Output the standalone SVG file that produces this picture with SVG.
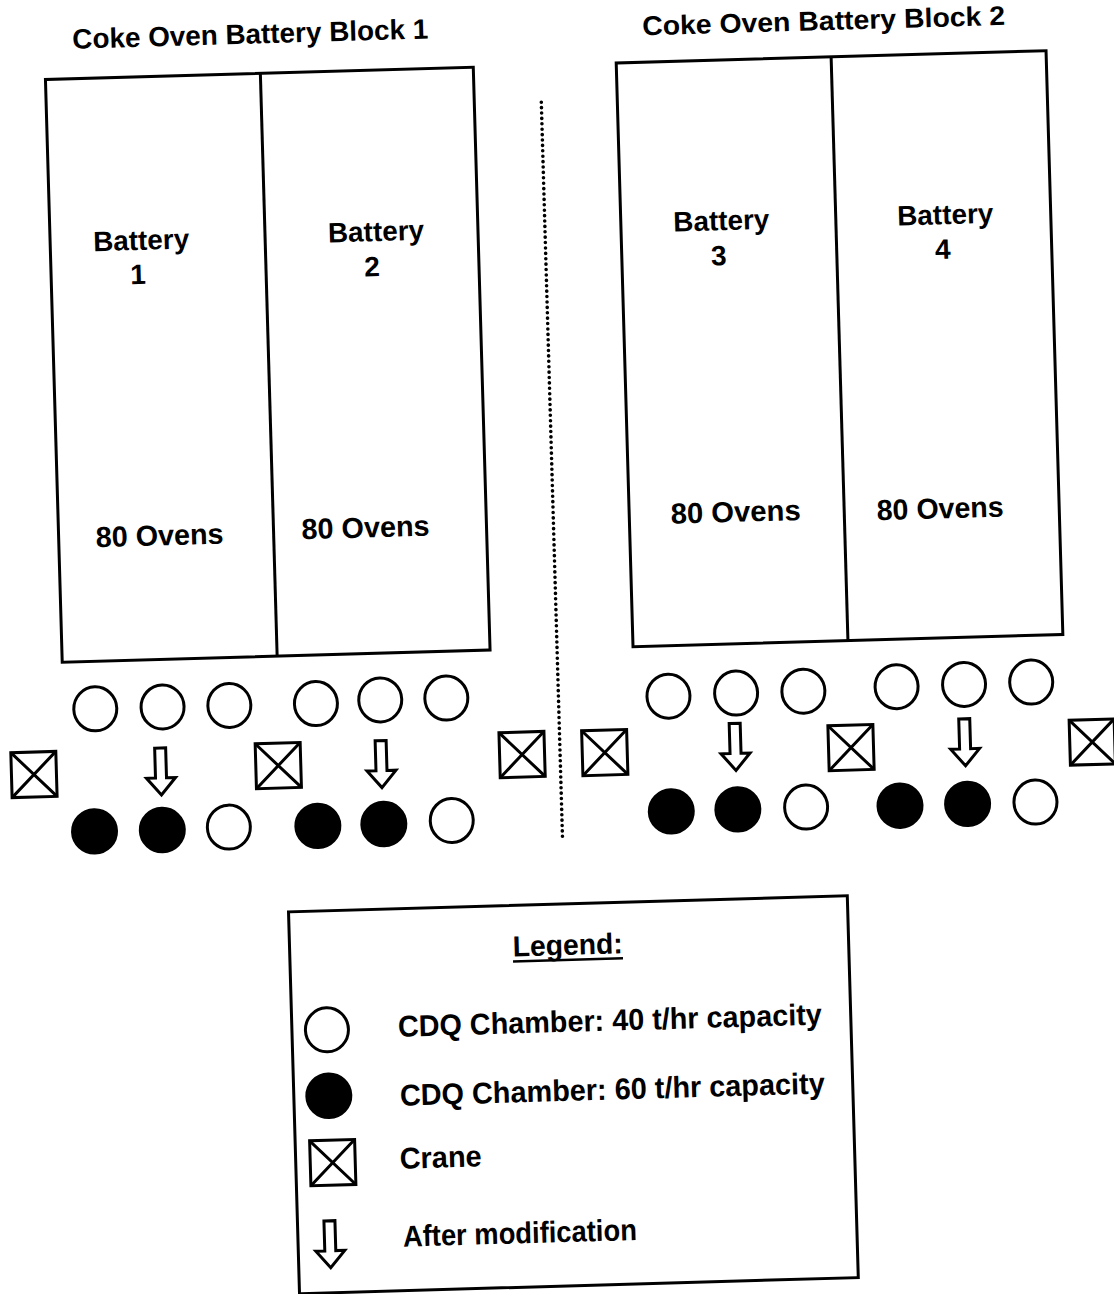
<svg xmlns="http://www.w3.org/2000/svg" xmlns:xlink="http://www.w3.org/1999/xlink" width="1114" height="1294" viewBox="0 0 1114 1294">
<style>
.t{font-family:"Liberation Sans",Arial,sans-serif;font-weight:bold;fill:#000}
.ln{fill:none;stroke:#000;stroke-width:3}
.open{fill:#fff;stroke:#000;stroke-width:3}
.full{fill:#000;stroke:#000;stroke-width:2}
</style>
<defs>
<g id="oc"><ellipse cx="0" cy="0" rx="21.5" ry="22" class="open"/></g>
<g id="fc"><ellipse cx="0" cy="0" rx="22.5" ry="22.2" class="full"/></g>
<g id="cr"><rect x="-22.5" y="-22.5" width="45" height="45" class="open" stroke-width="3.5"/><path d="M-22.5,-22.5 L22.5,22.5 M22.5,-22.5 L-22.5,22.5" class="ln"/></g>
<g id="ar"><path d="M-5.5,-47 H5.5 V-17 H14.5 L0,0 L-14.5,-17 H-5.5 Z" class="open" stroke-linejoin="miter"/></g>
</defs>
<rect width="1114" height="1294" fill="#fff"/>
<g transform="rotate(-1.65 557 647)">
<g id="block1">
<text class="t" x="90" y="35" font-size="28" textLength="356" lengthAdjust="spacingAndGlyphs">Coke Oven Battery Block 1</text>
<rect x="62" y="65" width="428" height="583" class="ln"/>
<line x1="277" y1="65" x2="277" y2="648" class="ln"/>
</g>
<g id="battery1">
<text class="t" x="153" y="238" font-size="28" text-anchor="middle" textLength="96" lengthAdjust="spacingAndGlyphs">Battery</text>
<text class="t" x="149" y="272" font-size="28" text-anchor="middle">1</text>
<text class="t" x="163" y="534" font-size="29" text-anchor="middle" textLength="128" lengthAdjust="spacingAndGlyphs">80 Ovens</text>
</g>
<g id="battery2">
<text class="t" x="388" y="236" font-size="28" text-anchor="middle" textLength="96" lengthAdjust="spacingAndGlyphs">Battery</text>
<text class="t" x="383" y="271" font-size="28" text-anchor="middle">2</text>
<text class="t" x="369" y="532" font-size="29" text-anchor="middle" textLength="128" lengthAdjust="spacingAndGlyphs">80 Ovens</text>
</g>
<g id="block2">
<text class="t" x="660" y="38" font-size="27" textLength="363" lengthAdjust="spacingAndGlyphs">Coke Oven Battery Block 2</text>
<rect x="633" y="65" width="430" height="584" class="ln"/>
<line x1="848" y1="65" x2="848" y2="649" class="ln"/>
</g>
<g id="battery3">
<text class="t" x="733.5" y="235" font-size="28" text-anchor="middle" textLength="96" lengthAdjust="spacingAndGlyphs">Battery</text>
<text class="t" x="730" y="270" font-size="28" text-anchor="middle">3</text>
<text class="t" x="739.5" y="527" font-size="29" text-anchor="middle" textLength="130" lengthAdjust="spacingAndGlyphs">80 Ovens</text>
</g>
<g id="battery4">
<text class="t" x="957.5" y="235.5" font-size="28" text-anchor="middle" textLength="96" lengthAdjust="spacingAndGlyphs">Battery</text>
<text class="t" x="954" y="270" font-size="28" text-anchor="middle">4</text>
<text class="t" x="944" y="529.5" font-size="29" text-anchor="middle" textLength="127" lengthAdjust="spacingAndGlyphs">80 Ovens</text>
</g>
<g id="divider">
<line x1="557" y1="102" x2="557" y2="838" fill="none" stroke="#000" stroke-width="3.6" stroke-linecap="round" stroke-dasharray="0 5.4"/>
</g>
<g id="cdq-block1">
<use xlink:href="#oc" x="93.7" y="695.5"/><use xlink:href="#oc" x="161" y="695.6"/><use xlink:href="#oc" x="227.8" y="696"/>
<use xlink:href="#oc" x="314.4" y="696.6"/><use xlink:href="#oc" x="378.8" y="694.8"/><use xlink:href="#oc" x="444.9" y="694.9"/>
<use xlink:href="#fc" x="89.4" y="818"/><use xlink:href="#fc" x="157.2" y="818.6"/><use xlink:href="#oc" x="223.8" y="817.6"/>
<use xlink:href="#fc" x="312.8" y="818.9"/><use xlink:href="#fc" x="378.8" y="819"/><use xlink:href="#oc" x="446.8" y="817.4"/>
</g>
<g id="cdq-block2">
<use xlink:href="#oc" x="667" y="699.4"/><use xlink:href="#oc" x="734.7" y="698.2"/><use xlink:href="#oc" x="802" y="698.3"/>
<use xlink:href="#oc" x="895.3" y="696.4"/><use xlink:href="#oc" x="962.8" y="696.1"/><use xlink:href="#oc" x="1030" y="695.7"/>
<use xlink:href="#fc" x="666.5" y="814.6"/><use xlink:href="#fc" x="733.1" y="814.5"/><use xlink:href="#oc" x="801.4" y="814.2"/>
<use xlink:href="#fc" x="895.3" y="815.5"/><use xlink:href="#fc" x="962.9" y="815.6"/><use xlink:href="#oc" x="1030.8" y="815.8"/>
</g>
<g id="cranes">
<use xlink:href="#cr" x="30.5" y="759.4"/><use xlink:href="#cr" x="275" y="757.5"/><use xlink:href="#cr" x="519" y="753.5"/>
<use xlink:href="#cr" x="601.7" y="753.9"/><use xlink:href="#cr" x="848" y="756"/><use xlink:href="#cr" x="1089.3" y="757.4"/>
</g>
<g id="connectors">
<use xlink:href="#ar" x="157.4" y="783.5"/><use xlink:href="#ar" x="378" y="782.5"/>
<use xlink:href="#ar" x="732.4" y="775.5"/><use xlink:href="#ar" x="962" y="777.5"/>
</g>
<g id="legend">
<rect x="281" y="904" width="559" height="382" class="ln"/>
<text class="t" x="559" y="955" font-size="29" text-anchor="middle" textLength="110" lengthAdjust="spacingAndGlyphs">Legend:</text>
<line x1="504" y1="960" x2="614" y2="960" stroke="#000" stroke-width="2.5"/>
<use xlink:href="#oc" x="316" y="1023"/>
<text class="t" x="387" y="1032" font-size="30" textLength="424" lengthAdjust="spacingAndGlyphs">CDQ Chamber: 40 t/hr capacity</text>
<use xlink:href="#fc" x="316" y="1089"/>
<text class="t" x="387" y="1101" font-size="30" textLength="425" lengthAdjust="spacingAndGlyphs">CDQ Chamber: 60 t/hr capacity</text>
<use xlink:href="#cr" x="318" y="1156"/>
<text class="t" x="385" y="1164" font-size="30" textLength="82" lengthAdjust="spacingAndGlyphs">Crane</text>
<use xlink:href="#ar" x="313" y="1261"/>
<text class="t" x="386" y="1242" font-size="30" textLength="234" lengthAdjust="spacingAndGlyphs">After modification</text>
</g>
</g>
</svg>
